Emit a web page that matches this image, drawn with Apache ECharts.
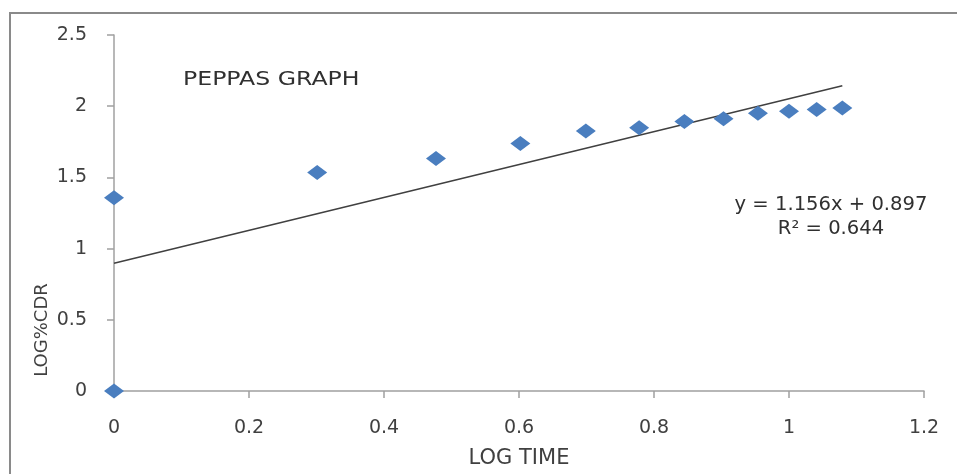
<!DOCTYPE html>
<html><head><meta charset="utf-8">
<script src="https://cdn.jsdelivr.net/npm/echarts@6/dist/echarts.min.js"></script>
<style>html,body{margin:0;padding:0;background:#fff}#c{width:957px;height:474px}</style>
</head><body><div id="c"></div>
<script>
const logTime = [0, 0, 0.301, 0.477, 0.602, 0.699, 0.778, 0.845, 0.903, 0.954, 1.0, 1.041, 1.079];
const logCDR  = [0, 1.357, 1.535, 1.632, 1.738, 1.825, 1.848, 1.893, 1.912, 1.950, 1.965, 1.977, 1.987];
const trendX = [0, 1.079];
const trendY = [0.897, 2.144];
const xTicks = [0, 0.2, 0.4, 0.6, 0.8, 1, 1.2];
const yTicks = [0, 0.5, 1, 1.5, 2, 2.5];
const titleText = 'PEPPAS GRAPH';
const eqText = 'y = 1.156x + 0.897';
const r2Text = 'R² = 0.644';

const font = '"DejaVu Sans", sans-serif';
const chart = echarts.init(document.getElementById('c'), null, {renderer: 'canvas'});
chart.setOption({
  animation: false,
  backgroundColor: '#fff',
  grid: {left: 114, right: 33, top: 35, bottom: 78},
  xAxis: {
    type: 'value', min: 0, max: 1.2, interval: 0.2,
    name: 'LOG TIME', nameLocation: 'middle', nameGap: 57,
    nameTextStyle: {fontFamily: font, fontSize: 21, color: '#404040', verticalAlign: 'top'},
    axisLine: {show: true, lineStyle: {color: '#a0a0a0', width: 1.5}},
    axisTick: {show: true, length: 7, lineStyle: {color: '#a0a0a0', width: 1.5}},
    splitLine: {show: false},
    axisLabel: {fontFamily: font, fontSize: 19, color: '#404040', margin: 28,
      formatter: v => { const t = xTicks.find(k => Math.abs(k - v) < 1e-9); return t === undefined ? '' : String(t); }}
  },
  yAxis: {
    type: 'value', min: 0, max: 2.5, interval: 0.5,
    axisLine: {show: true, lineStyle: {color: '#a0a0a0', width: 1.5}},
    axisTick: {show: true, length: 7, lineStyle: {color: '#a0a0a0', width: 1.5}},
    splitLine: {show: false},
    axisLabel: {fontFamily: font, fontSize: 19, color: '#404040', margin: 27,
      formatter: v => { const t = yTicks.find(k => Math.abs(k - v) < 1e-9); return t === undefined ? '' : String(t); }}
  },
  graphic: [
    {type: 'line', shape: {x1: 9, y1: 13, x2: 957, y2: 13}, style: {stroke: '#8a8a8a', lineWidth: 2}, z: 100},
    {type: 'line', shape: {x1: 10, y1: 12, x2: 10, y2: 474}, style: {stroke: '#8a8a8a', lineWidth: 2}, z: 100},
    {type: 'text', x: 183, y: 80, scaleX: 1.18, style: {text: titleText, fontFamily: font, fontSize: 20, fill: '#303030', verticalAlign: 'middle'}},
    {type: 'text', x: 831, y: 205, scaleX: 1.03, style: {text: eqText, fontFamily: font, fontSize: 19, fill: '#303030', align: 'center', verticalAlign: 'middle'}},
    {type: 'text', x: 831, y: 229, scaleX: 1.03, style: {text: r2Text, fontFamily: font, fontSize: 19, fill: '#303030', align: 'center', verticalAlign: 'middle'}},
    {type: 'text', x: 42, y: 330, rotation: Math.PI / 2, style: {text: 'LOG%CDR', fontFamily: font, fontSize: 18, fill: '#404040', align: 'center', verticalAlign: 'middle'}}
  ],
  series: [
    {type: 'line', data: trendX.map((x, i) => [x, trendY[i]]), showSymbol: false, symbol: 'none',
      lineStyle: {color: '#404040', width: 1.5}, z: 2},
    {type: 'scatter', data: logTime.map((x, i) => [x, logCDR[i]]), symbol: 'diamond', symbolSize: [20, 15],
      itemStyle: {color: '#4A7EBF', opacity: 1}, z: 3}
  ]
});
</script></body></html>
